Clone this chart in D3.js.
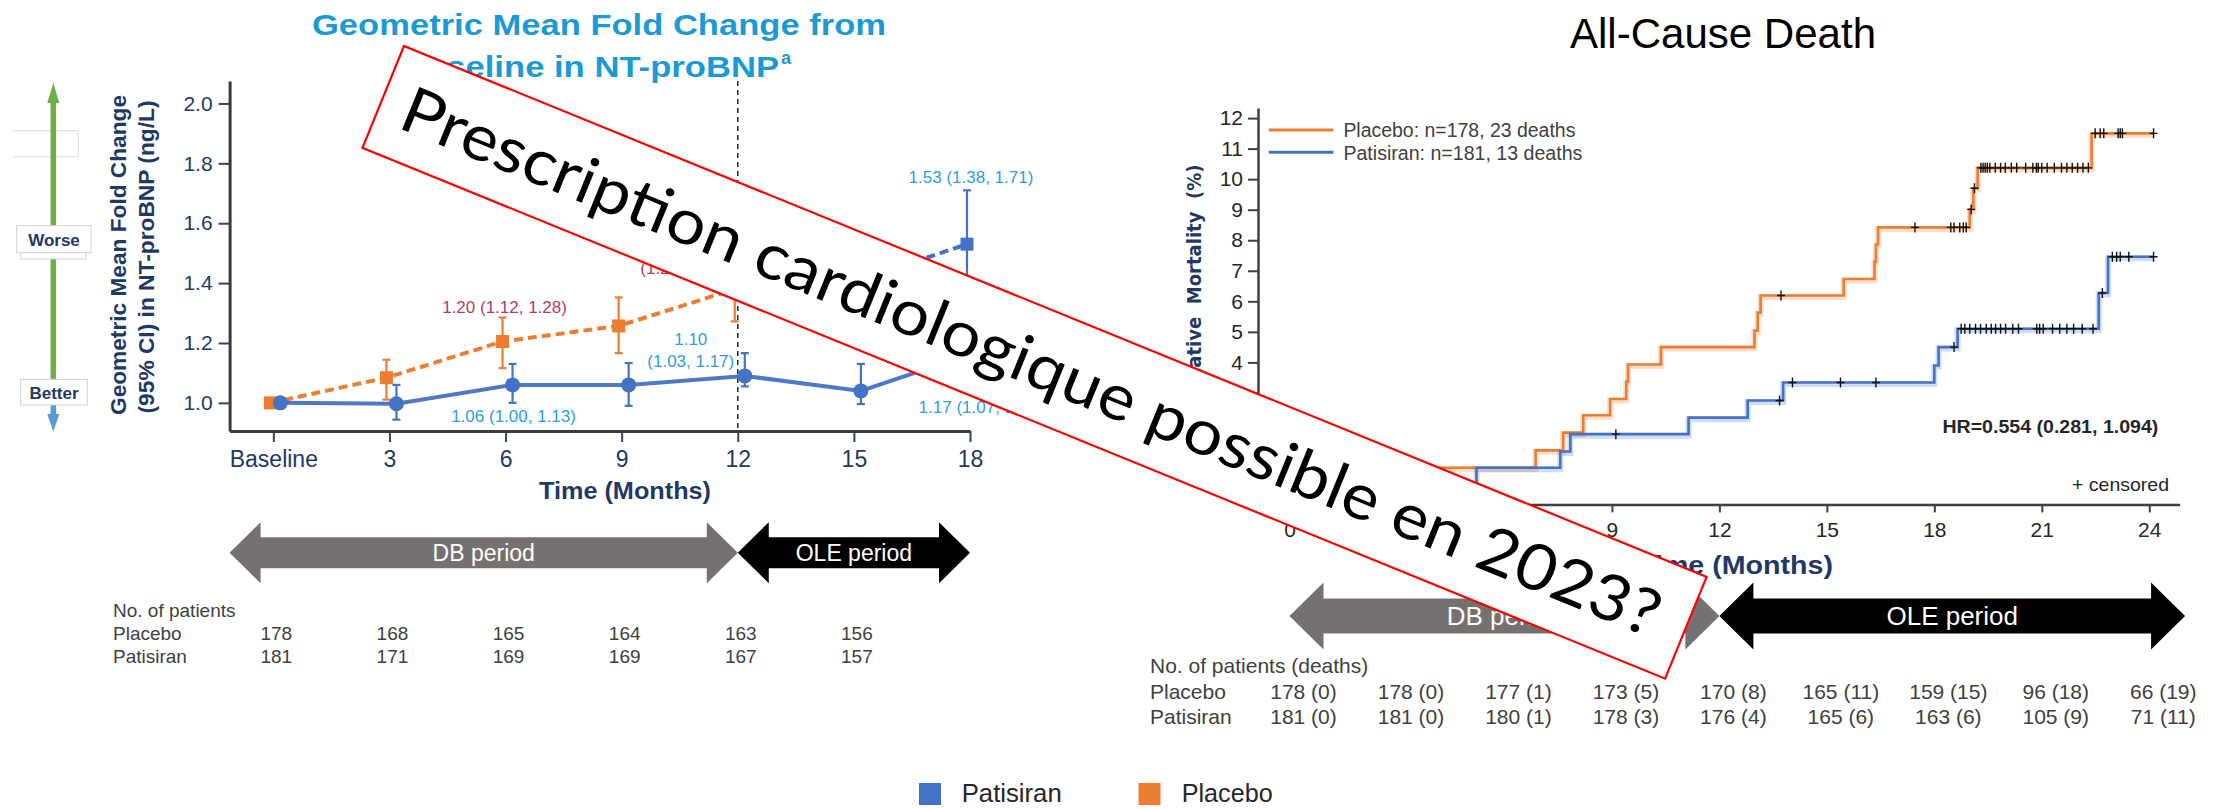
<!DOCTYPE html>
<html lang="fr">
<head>
<meta charset="UTF-8">
<title>NT-proBNP et mortalité toutes causes</title>
<script src="https://cdn.jsdelivr.net/npm/d3@7"></script>
<style>
  body { margin: 0; background: #fff; }
  svg { display: block; font-family: "Liberation Sans", Arial, sans-serif; }
</style>
</head>
<body>
<div id="chart"></div>
<script>
// ---- left panel: geometric mean fold change in NT-proBNP ----
const monthsL = [0, 3, 6, 9, 12, 15, 18];
const patMean = [1.00, 0.997, 1.06, 1.06, 1.09, 1.04, 1.17];
const patLow  = [1.00, 0.944, 1.00, 0.99, 1.055, 0.996, 1.07];
const patHigh = [1.00, 1.06, 1.13, 1.133, 1.166, 1.13, 1.28];
const plaMean = [1.00, 1.084, 1.205, 1.257, 1.38, 1.40, 1.53];
const plaLow  = [1.00, 1.011, 1.116, 1.166, 1.272, 1.29, 1.38];
const plaHigh = [1.00, 1.144, 1.285, 1.352, 1.50, 1.52, 1.71];
const ticksYL = [1.0, 1.2, 1.4, 1.6, 1.8, 2.0];
const nPlaL = [178, 168, 165, 164, 163, 156];
const nPatL = [181, 171, 169, 169, 167, 157];

// ---- right panel: all-cause death (Kaplan-Meier, %) ----
const monthsR = [0, 3, 6, 9, 12, 15, 18, 21, 24];
const ticksYR = [0, 1, 2, 3, 4, 5, 6, 7, 8, 9, 10, 11, 12];
const kmPlaTime = [0, 3.9, 6.87, 7.64, 8.2, 8.95, 9.4, 9.45, 10.37, 12.98, 13.07, 13.15, 15.47, 16.33, 16.37, 16.43, 18.99, 19.09, 19.21, 22.39];
const kmPlaPct  = [0, 0.55, 1.12, 1.70, 2.27, 2.80, 3.37, 3.93, 4.50, 5.04, 5.63, 6.19, 6.73, 7.30, 7.86, 8.42, 9.01, 9.70, 10.37, 11.5];
const kmPatTime = [0, 5.22, 7.56, 7.84, 11.14, 12.79, 13.78, 18.0, 18.12, 18.65, 22.59, 22.85];
const kmPatPct  = [0, 0.55, 1.08, 1.65, 2.19, 2.75, 3.34, 3.90, 4.50, 5.10, 6.27, 7.46];
const cenPla = [13.72, 17.46, 18.46, 18.55, 18.71, 18.81, 18.89, 19.03, 19.12,
  19.3, 19.36, 19.42, 19.48, 19.55, 19.7, 19.85, 19.98, 20.15, 20.3, 20.55, 20.75, 20.85,
  20.9, 21.0, 21.15, 21.35, 21.55, 21.7, 21.85, 22.0, 22.15, 22.3,
  22.49, 22.63, 22.73, 23.13, 23.19, 23.25, 24.12];
const cenPat = [9.11, 13.68, 14.04, 15.38, 16.37, 18.55,
  18.75, 18.85, 18.99, 19.15, 19.29, 19.45, 19.59, 19.71, 19.85, 19.99, 20.19, 20.35,
  20.86, 20.94, 21.04, 21.3, 21.5, 21.7, 21.89, 22.13, 22.43,
  22.69, 22.97, 23.09, 23.19, 23.43, 24.12];
const kmEnd = 24.12;
const riskPla = [178, 178, 177, 173, 170, 165, 159, 96, 66];
const deathPla = [0, 0, 1, 5, 8, 11, 15, 18, 19];
const riskPat = [181, 181, 180, 178, 176, 165, 163, 105, 71];
const deathPat = [0, 0, 1, 3, 4, 6, 6, 9, 11];

const NAVY = "#1f3864", ORANGE = "#ed7d31", BLUE = "#4472c4",
      LBLUE = "#2b9fdc", PINK = "#ad3d6c", GREY = "#404040";

function fit(sel, w) {
  return sel.attr("textLength", w).attr("lengthAdjust", "spacingAndGlyphs");
}

const svg = d3.select("#chart").append("svg")
  .attr("width", 2216).attr("height", 809);
svg.append("rect").attr("width", 2216).attr("height", 809).attr("fill", "#fff");

// =================== LEFT PANEL ===================
const xL = d3.scaleLinear().domain([-1.13, 18]).range([229.6, 970]);
const yL = d3.scaleLinear().domain([0.906, 2.075]).range([431, 81]);

// title
fit(svg.append("text").attr("x", 599).attr("y", 35)
  .attr("text-anchor", "middle").attr("font-size", 30).attr("font-weight", "bold")
  .attr("fill", "#1b9ad6").text("Geometric Mean Fold Change from"), 574);
fit(svg.append("text").attr("x", 402).attr("y", 77)
  .attr("font-size", 30).attr("font-weight", "bold")
  .attr("fill", "#1b9ad6").text("Baseline in NT-proBNP"), 377);
svg.append("text").attr("x", 781).attr("y", 64)
  .attr("font-size", 18).attr("font-weight", "bold")
  .attr("fill", "#1b9ad6").text("a");

// worse / better arrow
const wb = svg.append("g");
wb.append("path").attr("d", "M13.3,130.7 H78.3 V156.7 H13.3")
  .attr("fill", "none").attr("stroke", "#dcdcdc").attr("stroke-width", 1);
wb.append("line").attr("x1", 53.3).attr("x2", 53.3).attr("y1", 100).attr("y2", 382)
  .attr("stroke", "#70ad47").attr("stroke-width", 5.5);
wb.append("path").attr("d", "M53.3,82.7 L47.3,103 L59.3,103 Z").attr("fill", "#70ad47");
wb.append("line").attr("x1", 53.3).attr("x2", 53.3).attr("y1", 400).attr("y2", 418)
  .attr("stroke", "#5b9bd5").attr("stroke-width", 5.5);
wb.append("path").attr("d", "M47.3,414 L59.3,414 L53.3,431.7 Z").attr("fill", "#5b9bd5");
wb.append("rect").attr("x", 20.7).attr("y", 232).attr("width", 65.3).attr("height", 27)
  .attr("fill", "#fff").attr("stroke", "#d0d0d0");
wb.append("rect").attr("x", 16.7).attr("y", 225.7).attr("width", 74.3).attr("height", 27)
  .attr("fill", "#fff").attr("stroke", "#d0d0d0");
wb.append("text").attr("x", 54).attr("y", 245.5).attr("text-anchor", "middle")
  .attr("font-size", 17).attr("font-weight", "bold").attr("fill", NAVY).text("Worse");
wb.append("rect").attr("x", 20.7).attr("y", 379.3).attr("width", 66.6).attr("height", 25.7)
  .attr("fill", "#fff").attr("stroke", "#d0d0d0");
wb.append("text").attr("x", 54).attr("y", 398.5).attr("text-anchor", "middle")
  .attr("font-size", 17).attr("font-weight", "bold").attr("fill", NAVY).text("Better");

// y axis title
fit(svg.append("text").attr("transform", "translate(126,255) rotate(-90)")
  .attr("text-anchor", "middle").attr("font-size", 22).attr("font-weight", "bold")
  .attr("fill", NAVY).text("Geometric Mean Fold Change"), 320);
fit(svg.append("text").attr("transform", "translate(154,257) rotate(-90)")
  .attr("text-anchor", "middle").attr("font-size", 22).attr("font-weight", "bold")
  .attr("fill", NAVY).text("(95% CI) in NT-proBNP (ng/L)"), 313);

// axes
const gxL = svg.append("g").attr("transform", "translate(0,431)")
  .call(d3.axisBottom(xL).tickValues(monthsL).tickSize(11).tickSizeOuter(0).tickPadding(9)
    .tickFormat(d => d === 0 ? "Baseline" : d));
const gyL = svg.append("g").attr("transform", "translate(229.6,0)")
  .call(d3.axisLeft(yL).tickValues(ticksYL).tickSize(11).tickSizeOuter(0).tickPadding(6)
    .tickFormat(d3.format(".1f")));
[gxL, gyL].forEach(g => {
  g.attr("font-family", "'Liberation Sans', Arial, sans-serif").attr("font-size", 21);
  g.select(".domain").attr("stroke", "#3a3a3a").attr("stroke-width", 3);
  g.selectAll(".tick line").attr("stroke", "#34445c").attr("stroke-width", 2);
  g.selectAll(".tick text").attr("fill", NAVY);
});
gxL.attr("font-size", 23);
fit(svg.append("text").attr("x", 625).attr("y", 499).attr("text-anchor", "middle")
  .attr("font-size", 24).attr("font-weight", "bold").attr("fill", NAVY)
  .text("Time (Months)"), 172);

// dashed line at 12 months
svg.append("line").attr("x1", xL(12)).attr("x2", xL(12))
  .attr("y1", yL(2.075)).attr("y2", yL(0.906))
  .attr("stroke", "#222").attr("stroke-width", 1.5).attr("stroke-dasharray", "5,4");

// series
const offSq = -3, offCi = 7;
const plaPts = monthsL.map((m, i) => ({ m, v: plaMean[i], lo: plaLow[i], hi: plaHigh[i] }));
const patPts = monthsL.map((m, i) => ({ m, v: patMean[i], lo: patLow[i], hi: patHigh[i] }));
const colSq = d => d.m > 12 ? BLUE : ORANGE;

const lineSq = d3.line().x(d => xL(d.m) + offSq).y(d => yL(d.v));
const lineCi = d3.line().x(d => xL(d.m) + offCi).y(d => yL(d.v));

svg.append("path").attr("d", lineSq(plaPts.filter(d => d.m <= 12)))
  .attr("fill", "none").attr("stroke", ORANGE).attr("stroke-width", 4)
  .attr("stroke-dasharray", "9,5");
svg.append("path").attr("d", lineSq(plaPts.filter(d => d.m >= 12)))
  .attr("fill", "none").attr("stroke", BLUE).attr("stroke-width", 4)
  .attr("stroke-dasharray", "9,5");
svg.append("path").attr("d", lineCi(patPts))
  .attr("fill", "none").attr("stroke", BLUE).attr("stroke-width", 4).attr("stroke-opacity", 0.95);

function errBars(pts, off, col) {
  const g = svg.append("g");
  const sel = g.selectAll("g").data(pts.filter(d => d.m > 0)).enter().append("g")
    .attr("stroke", col).attr("stroke-width", 2.2);
  sel.append("line").attr("x1", d => xL(d.m) + off).attr("x2", d => xL(d.m) + off)
    .attr("y1", d => yL(d.lo)).attr("y2", d => yL(d.hi));
  sel.append("line").attr("x1", d => xL(d.m) + off - 4).attr("x2", d => xL(d.m) + off + 4)
    .attr("y1", d => yL(d.lo)).attr("y2", d => yL(d.lo));
  sel.append("line").attr("x1", d => xL(d.m) + off - 4).attr("x2", d => xL(d.m) + off + 4)
    .attr("y1", d => yL(d.hi)).attr("y2", d => yL(d.hi));
}
errBars(plaPts, offSq, colSq);
errBars(patPts, offCi, BLUE);

svg.append("g").selectAll("rect").data(plaPts).enter().append("rect")
  .attr("x", d => xL(d.m) + offSq - 6.5).attr("y", d => yL(d.v) - 6.5)
  .attr("width", 13).attr("height", 13).attr("fill", colSq);
svg.append("g").selectAll("circle").data(patPts).enter().append("circle")
  .attr("cx", d => xL(d.m) + offCi).attr("cy", d => yL(d.v)).attr("r", 7.5).attr("fill", BLUE);

// value labels
const labelsL = [
  { m: 6, v: 1.285, dx: -1, dy: -5, col: PINK, lines: ["1.20 (1.12, 1.28)"] },
  { m: 12, v: 1.38, dx: -54, dy: -37, col: PINK, lines: ["1.38", "(1.27, 1.50)"] },
  { m: 18, v: 1.71, dx: 1, dy: -7, col: LBLUE, lines: ["1.53 (1.38, 1.71)"] },
  { m: 6, v: 1.00, dx: 8, dy: 19, col: LBLUE, lines: ["1.06 (1.00, 1.13)"] },
  { m: 12, v: 1.09, dx: -47, dy: -31, col: LBLUE, lines: ["1.10", "(1.03, 1.17)"] },
  { m: 18, v: 1.07, dx: 11, dy: 31, col: LBLUE, lines: ["1.17 (1.07, 1.28)"] }
];
labelsL.forEach(l => {
  l.lines.forEach((t, k) => {
    svg.append("text").attr("x", xL(l.m) + l.dx).attr("y", yL(l.v) + l.dy + k * 22)
      .attr("text-anchor", "middle").attr("font-size", 17).attr("fill", l.col).text(t);
  });
});

// period arrows
function dblArrow(x1, x2, cy, head, sh, hh, fill, label, fs) {
  const pts = [[x1, cy], [x1 + head, cy - hh], [x1 + head, cy - sh], [x2 - head, cy - sh],
    [x2 - head, cy - hh], [x2, cy], [x2 - head, cy + hh], [x2 - head, cy + sh],
    [x1 + head, cy + sh], [x1 + head, cy + hh]];
  svg.append("polygon").attr("points", pts.map(p => p.join(",")).join(" ")).attr("fill", fill);
  svg.append("text").attr("x", (x1 + x2) / 2).attr("y", cy + fs * 0.36)
    .attr("text-anchor", "middle").attr("font-size", fs).attr("fill", "#fff").text(label);
}
dblArrow(xL(-1.13), xL(12), 552.7, 31, 15.5, 30.5, "#767171", "DB period", 23);
dblArrow(xL(12), xL(18), 552.7, 31, 15.5, 30.5, "#000", "OLE period", 23);

// patients table
const tL = svg.append("g").attr("font-size", 19).attr("fill", GREY);
tL.append("text").attr("x", 113).attr("y", 617).text("No. of patients");
tL.append("text").attr("x", 113).attr("y", 640).text("Placebo");
tL.append("text").attr("x", 113).attr("y", 662.5).text("Patisiran");
nPlaL.forEach((n, i) => tL.append("text").attr("x", xL(monthsL[i]) + 3).attr("y", 640)
  .attr("text-anchor", "middle").text(n));
nPatL.forEach((n, i) => tL.append("text").attr("x", xL(monthsL[i]) + 3).attr("y", 662.5)
  .attr("text-anchor", "middle").text(n));

// =================== RIGHT PANEL ===================
const xR = d3.scaleLinear().domain([-0.88, 24.85]).range([1258, 2179.7]);
const yR = d3.scaleLinear().domain([-0.65, 12.33]).range([504.4, 108]);

fit(svg.append("text").attr("x", 1723).attr("y", 48).attr("text-anchor", "middle")
  .attr("font-size", 42).attr("fill", "#000").text("All-Cause Death"), 306);

const gxR = svg.append("g").attr("transform", "translate(0,504.4)")
  .call(d3.axisBottom(xR).tickValues(monthsR).tickSize(8).tickSizeOuter(0).tickPadding(10));
const gyR = svg.append("g").attr("transform", "translate(1258,0)")
  .call(d3.axisLeft(yR).tickValues(ticksYR).tickSize(10).tickSizeOuter(0).tickPadding(5));
[gxR, gyR].forEach(g => {
  g.attr("font-family", "'Liberation Sans', Arial, sans-serif").attr("font-size", 21);
  g.select(".domain").attr("stroke", "#404040").attr("stroke-width", 2.5);
  g.selectAll(".tick line").attr("stroke", "#404040").attr("stroke-width", 2);
  g.selectAll(".tick text").attr("fill", "#262626");
});

fit(svg.append("text").attr("transform", "translate(1201,298) rotate(-90)")
  .attr("text-anchor", "middle").attr("font-size", 19).attr("font-weight", "bold")
  .attr("font-family", "'DejaVu Sans', sans-serif").attr("fill", NAVY)
  .style("white-space", "pre").text("Cumulative  Mortality  (%)"), 267);
fit(svg.append("text").attr("x", 1735.5).attr("y", 574).attr("text-anchor", "middle")
  .attr("font-size", 25).attr("font-weight", "bold").attr("fill", NAVY)
  .text("Time (Months)"), 195);

// KM curves
const stepLine = d3.line().x(d => xR(d[0])).y(d => yR(d[1])).curve(d3.curveStepAfter);
function kmPts(times, pct) {
  const pts = times.map((t, i) => [t, pct[i]]);
  pts.push([kmEnd, pct[pct.length - 1]]);
  return pts;
}
function drawKM(times, pct, col, cens) {
  const d = stepLine(kmPts(times, pct));
  svg.append("path").attr("d", d).attr("fill", "none").attr("stroke", col)
    .attr("stroke-width", 6).attr("stroke-opacity", 0.25).attr("transform", "translate(0,1.5)");
  svg.append("path").attr("d", d).attr("fill", "none").attr("stroke", col).attr("stroke-width", 2.6);
  const cg = svg.append("g").attr("stroke", "#111").attr("stroke-width", 1.4);
  cens.forEach(t => {
    const v = pct[d3.bisectRight(times, t) - 1];
    const cx = xR(t), cy = yR(v);
    cg.append("path").attr("d", `M${cx - 4},${cy}H${cx + 4}M${cx},${cy - 5}V${cy + 5}`);
  });
}
drawKM(kmPlaTime, kmPlaPct, ORANGE, cenPla);
drawKM(kmPatTime, kmPatPct, BLUE, cenPat);

// legend inside KM
const lg = svg.append("g");
lg.append("line").attr("x1", 1268.7).attr("x2", 1333.5).attr("y1", 130).attr("y2", 130)
  .attr("stroke", ORANGE).attr("stroke-width", 3);
lg.append("line").attr("x1", 1268.7).attr("x2", 1333.5).attr("y1", 152.3).attr("y2", 152.3)
  .attr("stroke", BLUE).attr("stroke-width", 3);
fit(lg.append("text").attr("x", 1343.4).attr("y", 137).attr("font-size", 20).attr("fill", GREY)
  .text("Placebo: n=178, 23 deaths"), 232);
fit(lg.append("text").attr("x", 1343.4).attr("y", 159.5).attr("font-size", 20).attr("fill", GREY)
  .text("Patisiran: n=181, 13 deaths"), 239);

fit(svg.append("text").attr("x", 2158.4).attr("y", 433).attr("text-anchor", "end")
  .attr("font-size", 19).attr("font-weight", "bold").attr("fill", "#262626")
  .text("HR=0.554 (0.281, 1.094)"), 216);
fit(svg.append("text").attr("x", 2169).attr("y", 491).attr("text-anchor", "end")
  .attr("font-size", 19).attr("fill", "#262626").text("+ censored"), 97);

dblArrow(xR(0), xR(12), 616, 34, 17.5, 33.5, "#767171", "DB period", 26);
dblArrow(xR(12), xR(25), 616, 34, 17.5, 33.5, "#000", "OLE period", 26);

const tR = svg.append("g").attr("font-size", 21).attr("fill", GREY);
tR.append("text").attr("x", 1150).attr("y", 672.5).text("No. of patients (deaths)");
tR.append("text").attr("x", 1150).attr("y", 698.5).text("Placebo");
tR.append("text").attr("x", 1150).attr("y", 724).text("Patisiran");
riskPla.forEach((n, i) => tR.append("text").attr("x", xR(monthsR[i]) + 14).attr("y", 698.5)
  .attr("text-anchor", "middle").text(`${n} (${deathPla[i]})`));
riskPat.forEach((n, i) => tR.append("text").attr("x", xR(monthsR[i]) + 14).attr("y", 724)
  .attr("text-anchor", "middle").text(`${n} (${deathPat[i]})`));

// bottom legend
const bl = svg.append("g");
bl.append("rect").attr("x", 919).attr("y", 783).attr("width", 22).attr("height", 22).attr("fill", BLUE);
fit(bl.append("text").attr("x", 961.7).attr("y", 802).attr("font-size", 25)
  .attr("fill", "#262626").text("Patisiran"), 100);
bl.append("rect").attr("x", 1138.5).attr("y", 783).attr("width", 22).attr("height", 22).attr("fill", ORANGE);
fit(bl.append("text").attr("x", 1181.7).attr("y", 802).attr("font-size", 25)
  .attr("fill", "#262626").text("Placebo"), 91);

// =================== BANNER ===================
const bn = svg.append("g").attr("transform", "translate(404,46) rotate(22.17)");
bn.append("rect").attr("width", 1406.6).attr("height", 110)
  .attr("fill", "#fff").attr("stroke", "#ff0000").attr("stroke-width", 2.2);
fit(bn.append("text").attr("x", 700).attr("y", 78).attr("text-anchor", "middle")
  .attr("font-family", "Lato, 'Open Sans', sans-serif").attr("font-size", 64).attr("fill", "#000")
  .text("Prescription cardiologique possible en 2023?"), 1353);
</script>
</body>
</html>
